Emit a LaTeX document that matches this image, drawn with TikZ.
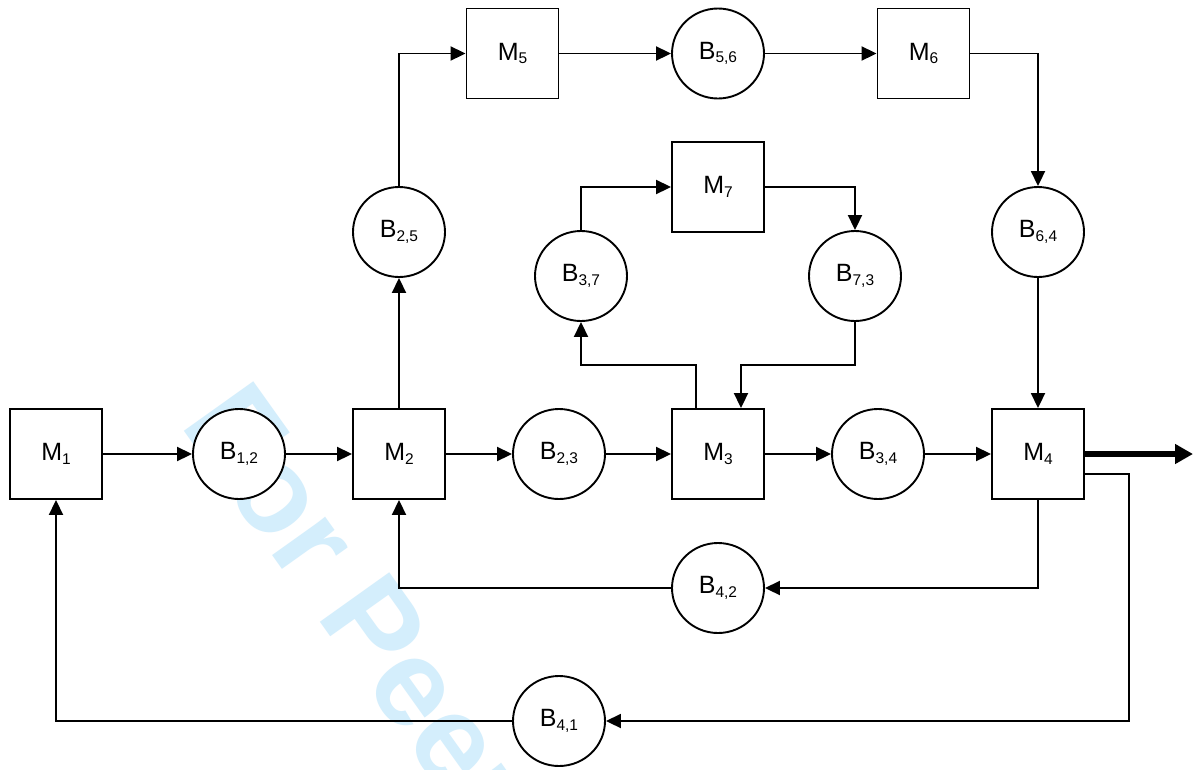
\documentclass[tikz,border=0pt]{standalone}
\usepackage{fontspec}
\setmainfont{Liberation Sans}
\usetikzlibrary{arrows.meta,shapes.geometric}
\definecolor{wmark}{RGB}{212,238,252}
\newcommand\lbl[2]{#1\raisebox{-3.5pt}{\fontsize{15.5}{15.5}\selectfont #2}}
\begin{document}
\begin{tikzpicture}[x=1pt,y=-1pt,
  line width=1.9pt,
  mbox/.style={draw,fill=white,rectangle,minimum width=92pt,minimum height=90pt,inner sep=0pt,font=\fontsize{25}{25}\selectfont},
  buf/.style={draw,fill=white,ellipse,minimum width=92pt,minimum height=90pt,inner sep=0pt,font=\fontsize{25}{25}\selectfont},
  arr/.style={-{Triangle[length=15pt,width=14pt]}},
  bigarr/.style={line width=6pt,-{Triangle[length=18pt,width=19pt]}}]
\useasboundingbox (0,0) rectangle (1194,769);
\fill[white] (0,0) rectangle (1194,769);
% watermark
\begin{scope}
\clip (0,0) rectangle (1194,769);
\node[anchor=base west,rotate=-54.5,inner sep=0pt,text=wmark,font=\fontsize{124}{124}\selectfont\bfseries] (wm) at (179,424) {For Peer Review};
\end{scope}
% nodes
\node[mbox] (M1) at (56,454) {\lbl{M}{1}};
\node[buf]  (B12) at (239,454) {\lbl{B}{1,2}};
\node[mbox] (M2) at (399,454) {\lbl{M}{2}};
\node[buf]  (B23) at (559,454) {\lbl{B}{2,3}};
\node[mbox] (M3) at (718,454) {\lbl{M}{3}};
\node[buf]  (B34) at (878,454) {\lbl{B}{3,4}};
\node[mbox] (M4) at (1038,454) {\lbl{M}{4}};
\node[mbox] (M5) at (512.5,53.5) {\lbl{M}{5}};
\node[buf]  (B56) at (718,53.5) {\lbl{B}{5,6}};
\node[mbox] (M6) at (923.5,53.5) {\lbl{M}{6}};
\node[buf]  (B25) at (399,232) {\lbl{B}{2,5}};
\node[buf]  (B64) at (1038,232) {\lbl{B}{6,4}};
\node[mbox] (M7) at (718,187) {\lbl{M}{7}};
\node[buf]  (B37) at (581,276) {\lbl{B}{3,7}};
\node[buf]  (B73) at (855,276) {\lbl{B}{7,3}};
\node[buf]  (B42) at (718,588) {\lbl{B}{4,2}};
\node[buf]  (B41) at (559,721) {\lbl{B}{4,1}};
% helper coordinates
\coordinate (h1) at (0,365);
\coordinate (m3l) at ([xshift=-22pt]M3.north);
\coordinate (m3r) at ([xshift=23pt]M3.north);
\coordinate (m4o) at ([yshift=-20pt]M4.east);
\coordinate (v41) at (1129,0);
\coordinate (out) at (1193,454);
% main line
\draw[arr] (M1) -- (B12);
\draw[arr] (B12) -- (M2);
\draw[arr] (M2) -- (B23);
\draw[arr] (B23) -- (M3);
\draw[arr] (M3) -- (B34);
\draw[arr] (B34) -- (M4);
\draw[bigarr] (M4.east) -- (out);
% upper route
\draw[arr] (M2.north) -- (B25.south);
\draw[arr] (B25.north) |- (M5.west);
\draw[arr] (M5) -- (B56);
\draw[arr] (B56) -- (M6);
\draw[arr] (M6.east) -| (B64.north);
\draw[arr] (B64.south) -- (M4.north);
% M7 loop
\draw[arr] (m3l) -- (m3l |- h1) -| (B37.south);
\draw[arr] (B37.north) |- (M7.west);
\draw[arr] (M7.east) -| (B73.north);
\draw[arr] (B73.south) -- (B73.south |- h1) -| (m3r);
% feedback
\draw[arr] (M4.south) |- (B42.east);
\draw[arr] (B42.west) -| (M2.south);
\draw[arr] (m4o) -- (m4o -| v41) |- (B41.east);
\draw[arr] (B41.west) -| (M1.south);
\end{tikzpicture}
\end{document}
